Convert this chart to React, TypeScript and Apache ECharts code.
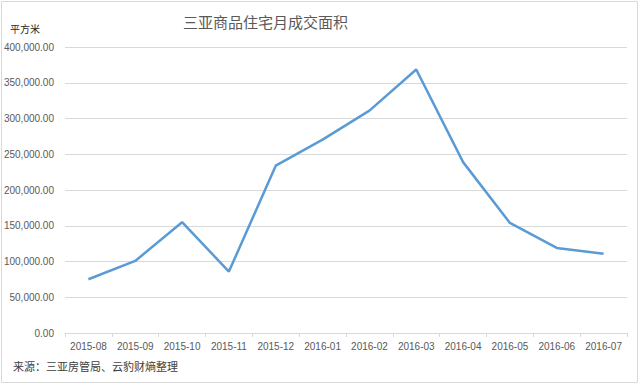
import React, { useEffect, useRef } from "react";
import * as echarts from "echarts";

const categories = [
  "2015-08", "2015-09", "2015-10", "2015-11", "2015-12", "2016-01",
  "2016-02", "2016-03", "2016-04", "2016-05", "2016-06", "2016-07",
];
const areaValues = [
  75200, 100800, 155000, 85900, 234000, 270500,
  311000, 368500, 239000, 154000, 119000, 110800,
];
const titleText = "三亚商品住宅月成交面积";
const unitText = "平方米";
const sourceText = "来源：三亚房管局、云豹财熵整理";

export default function App() {
  const ref = useRef<HTMLDivElement>(null);
  useEffect(() => {
    if (!ref.current) return;
    const chart = echarts.init(ref.current, undefined, { renderer: "svg" });
    const font = "'Liberation Sans', 'Noto Sans CJK SC', sans-serif";
    chart.setOption({
      animation: false,
      backgroundColor: "#ffffff",
      textStyle: { fontFamily: font },
      title: {
        text: titleText,
        left: 178,
        top: 9,
        textStyle: {
          fontFamily: "'Noto Sans CJK SC', sans-serif",
          fontSize: 15,
          fontWeight: "normal",
          color: "#595959",
        },
      },
      graphic: [
        {
          type: "rect",
          shape: { x: 1.5, y: 1.5, width: 636, height: 381 },
          style: { fill: "none", stroke: "#d9d9d9", lineWidth: 1 },
          silent: true,
        },
        {
          type: "text",
          left: 10,
          top: 23,
          style: {
            text: unitText,
            fontSize: 10,
            fill: "#262626",
            fontFamily: "'Noto Sans CJK SC', sans-serif",
          },
        },
        {
          type: "text",
          left: 13,
          top: 360,
          style: {
            text: sourceText,
            fontSize: 11,
            fill: "#404040",
            fontFamily: "'Noto Sans CJK SC', sans-serif",
          },
        },
      ],
      grid: { left: 65, right: 13, top: 47, bottom: 52, containLabel: false },
      xAxis: {
        type: "category",
        data: categories,
        boundaryGap: true,
        axisLine: { lineStyle: { color: "#d9d9d9" } },
        axisTick: { show: true, length: 4, lineStyle: { color: "#d9d9d9" } },
        axisLabel: { color: "#595959", fontSize: 10, margin: 8, interval: 0 },
      },
      yAxis: {
        type: "value",
        min: 0,
        max: 400000,
        interval: 50000,
        axisLine: { show: false },
        axisTick: { show: false },
        splitLine: { lineStyle: { color: "#d9d9d9" } },
        axisLabel: {
          color: "#595959",
          fontSize: 10,
          margin: 11,
          formatter: (v: number) =>
            v.toLocaleString("en-US", { minimumFractionDigits: 2, maximumFractionDigits: 2 }),
        },
      },
      series: [
        {
          type: "line",
          data: areaValues,
          showSymbol: false,
          symbol: "none",
          lineStyle: { color: "#5b9bd5", width: 2.5 },
          itemStyle: { color: "#5b9bd5" },
        },
      ],
    });
    return () => chart.dispose();
  }, []);
  return <div ref={ref} style={{ width: 640, height: 385, position: "absolute", left: 0, top: 0 }} />;
}
